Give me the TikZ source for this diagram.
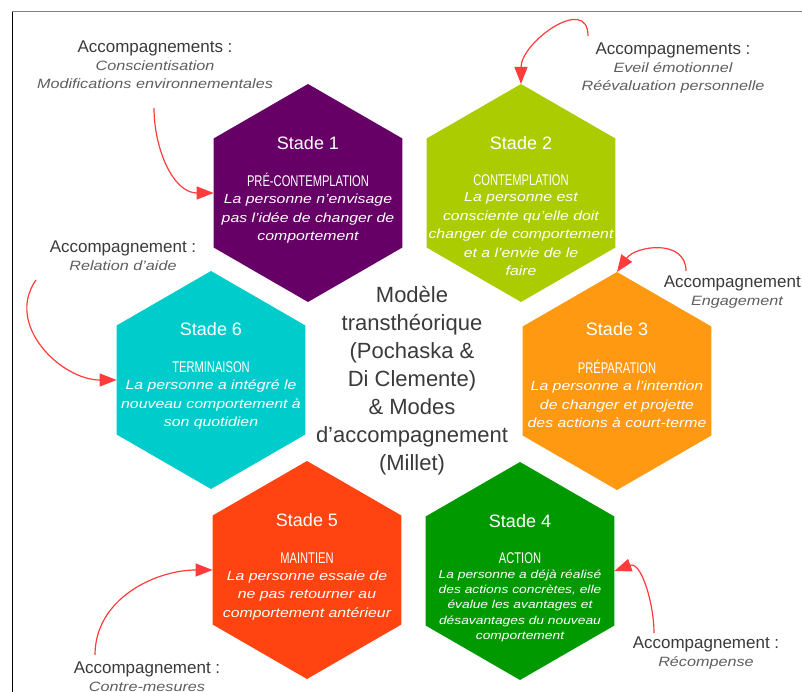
\documentclass[tikz,border=0pt]{standalone}
\usepackage{fontspec}
\setmainfont{Liberation Sans}
\newfontfamily\capsfont[FakeStretch=0.72]{Liberation Sans}
\newfontfamily\descfont[FakeStretch=1.2]{Liberation Sans}
\usetikzlibrary{shapes.geometric, arrows.meta, positioning}

\definecolor{violetA}{HTML}{660066}
\definecolor{limeA}{HTML}{AACC00}
\definecolor{orangeA}{HTML}{FF9911}
\definecolor{vertA}{HTML}{009900}
\definecolor{rougeA}{HTML}{FF4411}
\definecolor{cyanA}{HTML}{00CCCC}
\definecolor{fleche}{HTML}{FF3B3B}
\definecolor{texteA}{HTML}{3A3A3A}
\definecolor{texteB}{HTML}{5E5E5E}

\newcommand{\sous}{\descfont\itshape\fontsize{13.5}{18}\selectfont\color{texteB}}

\begin{document}
\begin{tikzpicture}[x=1pt, y=-1pt,
        hexa/.style = {regular polygon, regular polygon sides=6, shape border rotate=30, minimum size=218pt, inner sep=0pt, outer sep=0pt},
        num/.style = {text=white, font=\fontsize{18}{20}\selectfont, inner sep=0pt},
        ttl/.style = {text=white, font=\capsfont\fontsize{15.5}{17}\selectfont, inner sep=0pt},
        desc/.style = {text=white, align=center, font=\descfont\itshape\fontsize{13.2}{18.5}\selectfont, inner sep=0pt},
        accomp/.style = {text=texteA, align=center, font=\fontsize{17}{18}\selectfont, inner sep=0pt},
        arr/.style = {draw=fleche, line width=1.2pt, -{Triangle[length=17pt, width=13pt]}}]

                \useasboundingbox (0,0) rectangle (802,692);
                % cadre
                \draw[black, line width=1.3pt] (12.5,11) -- (12.5,692);
                \draw[gray, line width=1.6pt] (12,11.5) -- (802,11.5);

                % les six stades
                \node[hexa, fill=violetA] (s1) at (308,193) {};
                \node[hexa, fill=limeA] (s2) at (521,193) {};
                \node[hexa, fill=orangeA] (s3) at (617,381) {};
                \node[hexa, fill=vertA] (s4) at (520,571) {};
                \node[hexa, fill=rougeA] (s5) at (307,570) {};
                \node[hexa, fill=cyanA] (s6) at (211,380) {};

                \node[num] (n1) at (308,143) {Stade 1};
                \node[ttl] (t1) at (308,180) {PRÉ-CONTEMPLATION};
                \node[desc, below=7pt of t1] (d1) {La personne n’envisage\\pas l’idée de changer de\\comportement};

                \node[num] (n2) at (521,143) {Stade 2};
                \node[ttl] (t2) at (521,180) {CONTEMPLATION};
                \node[desc, below=7pt of t2] (d2) {La personne est\\consciente qu’elle doit\\changer de comportement\\et a l’envie de le\\faire};

                \node[num] (n3) at (617,329) {Stade 3};
                \node[ttl] (t3) at (617,367) {PRÉPARATION};
                \node[desc, below=7pt of t3] (d3) {La personne a l’intention\\de changer et projette\\des actions à court-terme};

                \node[num] (n4) at (520,521) {Stade 4};
                \node[ttl] (t4) at (520,558) {ACTION};
                \node[desc, below=6pt of t4, font=\descfont\itshape\fontsize{11.5}{15.3}\selectfont] (d4) {La personne a déjà réalisé\\des actions concrètes, elle\\évalue les avantages et\\désavantages du nouveau\\comportement};

                \node[num] (n5) at (307,520) {Stade 5};
                \node[ttl] (t5) at (307,558) {MAINTIEN};
                \node[desc, below=7pt of t5] (d5) {La personne essaie de\\ne pas retourner au\\comportement antérieur};

                \node[num] (n6) at (211,329) {Stade 6};
                \node[ttl] (t6) at (211,367) {TERMINAISON};
                \node[desc, below=7pt of t6] (d6) {La personne a intégré le\\nouveau comportement à\\son quotidien};

                % titre central
                \node[text=texteA, align=center, font=\fontsize{22}{28}\selectfont] (m) at (412,381) {Modèle\\transthéorique\\(Pochaska \&\\Di Clemente)\\\& Modes\\d’accompagnement\\(Millet)};

                % accompagnements
                \node[accomp] (a1) at (155,65) {Accompagnements :\\{\sous Conscientisation}\\{\sous Modifications environnementales}};
                \node[accomp] (a2) at (673,68) {Accompagnements :\\{\sous Eveil émotionnel}\\{\sous Réévaluation personnelle}};
                \node[accomp] (a3) at (737,292) {Accompagnement :\\{\sous Engagement}};
                \node[accomp] (a4) at (706,653) {Accompagnement :\\{\sous Récompense}};
                \node[accomp] (a5) at (147,677) {Accompagnement :\\{\sous Contre-mesures}};
                \node[accomp] (a6) at (123,256) {Accompagnement :\\{\sous Relation d’aide}};

                \coordinate (c1) at (154,108);
                \coordinate (c2) at (588,36);
                \coordinate (c3) at (686,271);
                \coordinate (c4) at (654,633);
                \coordinate (c5) at (95,655);
                \coordinate (c6) at (36,280);

                \draw[arr] (c1) to[out=-90, in=180] (s1.west);
                \draw[arr] (c2) to[out=90, in=90, looseness=1.3] (s2.north);
                \draw[arr] (c3) to[out=90, in=55, looseness=1.2] (s3.north);
                \draw[arr] (c4) to[out=90, in=20] (s4.east);
                \draw[arr] (c5) to[out=90, in=180] (s5.west);
                \draw[arr] (c6) to[out=235, in=180, looseness=1.1] (s6.west);

            \end{tikzpicture}
\end{document}
